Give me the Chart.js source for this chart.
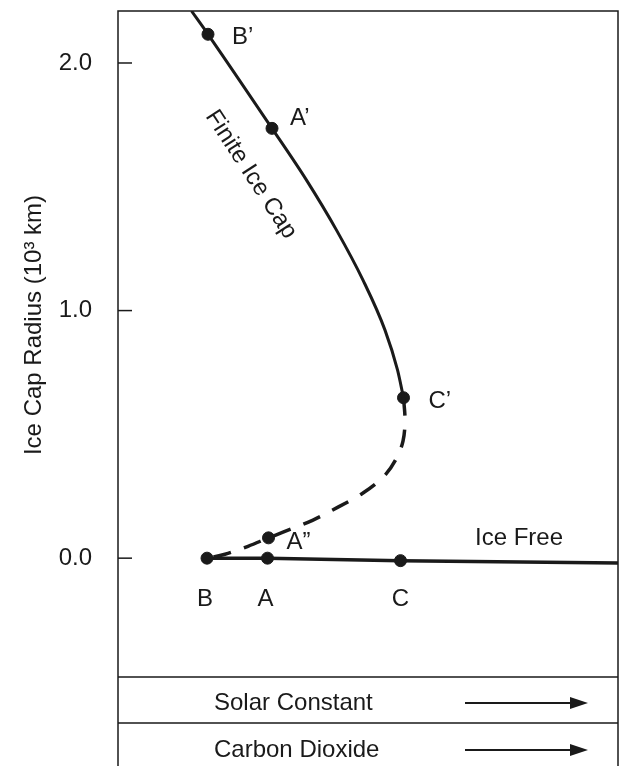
<!DOCTYPE html>
<html>
<head>
<meta charset="utf-8">
<script src="https://cdn.jsdelivr.net/npm/chart.js@4"></script>
<style>
  html, body { margin: 0; padding: 0; background: #fff; }
  #wrap { width: 629px; height: 766px; }
</style>
</head>
<body>
<div id="wrap"><canvas id="chart" width="629" height="766"></canvas></div>
<script>
// Finite ice cap branch (solid)
const finiteX = [1.47, 1.80, 3.08, 3.77, 4.37, 4.90, 5.34, 5.59, 5.71];
const finiteY = [2.21, 2.116, 1.736, 1.527, 1.325, 1.123, 0.921, 0.760, 0.648];

// unstable branch (dashed), from C' back down to B
const unstableX = [5.71, 5.74, 5.70, 5.56, 5.32, 4.90, 4.40, 3.90, 3.30, 3.01, 2.60, 2.14, 1.78];
const unstableY = [0.648, 0.558, 0.473, 0.400, 0.331, 0.263, 0.206, 0.154, 0.105, 0.082, 0.048, 0.016, 0.0];

// ice free branch
const iceFreeX = [1.78, 2.99, 5.65, 10];
const iceFreeY = [0, 0, -0.01, -0.02];

// marked states
const pointNames = ['B’', 'A’', 'C’', 'A”', 'B', 'A', 'C'];
const pointX = [1.80, 3.08, 5.71, 3.01, 1.78, 2.99, 5.65];
const pointY = [2.116, 1.736, 0.648, 0.082, 0, 0, -0.01];

const yTicks = [0, 1, 2];
const yTitle = 'Ice Cap Radius (10³ km)';
const controls = ['Solar Constant', 'Carbon Dioxide'];

const INK = '#1a1a1a';
const FONT = '"Liberation Sans", Arial, Helvetica, sans-serif';

function toXY(xs, ys) {
  return xs.map((x, i) => ({ x: x, y: ys[i] }));
}

// label offsets in px from each marked point
const labelOffsets = [
  { dx: 24, dy: 3, align: 'left' },
  { dx: 18, dy: -10, align: 'left' },
  { dx: 25, dy: 4, align: 'left' },
  { dx: 18, dy: 5, align: 'left' },
  { dx: -2, dy: 41, align: 'center' },
  { dx: -2, dy: 41, align: 'center' },
  { dx: 0, dy: 39, align: 'center' }
];

const decor = {
  id: 'decor',
  afterDraw(chart) {
    const ctx = chart.ctx;
    const a = chart.chartArea;
    const sx = chart.scales.x;
    const sy = chart.scales.y;
    const H = chart.height;
    ctx.save();
    ctx.strokeStyle = INK;
    ctx.fillStyle = INK;

    // frame, running down into the control rows
    ctx.lineWidth = 1.5;
    ctx.beginPath();
    ctx.moveTo(a.left, H);
    ctx.lineTo(a.left, a.top);
    ctx.lineTo(a.right, a.top);
    ctx.lineTo(a.right, H);
    ctx.moveTo(a.left, a.bottom);
    ctx.lineTo(a.right, a.bottom);
    ctx.moveTo(a.left, a.bottom + 46);
    ctx.lineTo(a.right, a.bottom + 46);
    ctx.stroke();

    // inward tick marks
    yTicks.forEach(v => {
      const y = sy.getPixelForValue(v);
      ctx.beginPath();
      ctx.moveTo(a.left, y);
      ctx.lineTo(a.left + 14, y);
      ctx.stroke();
    });

    // y axis title
    ctx.save();
    ctx.translate(34, 325);
    ctx.rotate(-Math.PI / 2);
    ctx.font = '24px ' + FONT;
    ctx.textAlign = 'center';
    ctx.textBaseline = 'middle';
    ctx.fillText(yTitle, 0, 0);
    ctx.restore();

    // point labels
    ctx.font = '24px ' + FONT;
    ctx.textBaseline = 'middle';
    pointNames.forEach((name, i) => {
      const o = labelOffsets[i];
      ctx.textAlign = o.align;
      ctx.fillText(name, sx.getPixelForValue(pointX[i]) + o.dx, sy.getPixelForValue(pointY[i]) + o.dy);
    });

    // branch labels
    ctx.textAlign = 'left';
    ctx.fillText('Ice Free', sx.getPixelForValue(7.14), sy.getPixelForValue(0.081));
    ctx.save();
    ctx.translate(sx.getPixelForValue(2.66), sy.getPixelForValue(1.55));
    ctx.rotate(57 * Math.PI / 180);
    ctx.textAlign = 'center';
    ctx.fillText('Finite Ice Cap', 0, 0);
    ctx.restore();

    // control rows with arrows
    controls.forEach((txt, i) => {
      const cy = a.bottom + 26 + i * 47;
      ctx.textAlign = 'left';
      ctx.fillText(txt, a.left + 96, cy);
      ctx.lineWidth = 2;
      ctx.beginPath();
      ctx.moveTo(a.left + 347, cy);
      ctx.lineTo(a.left + 456, cy);
      ctx.stroke();
      ctx.beginPath();
      ctx.moveTo(a.left + 470, cy);
      ctx.lineTo(a.left + 452, cy - 6);
      ctx.lineTo(a.left + 452, cy + 6);
      ctx.closePath();
      ctx.fill();
    });
    ctx.restore();
  }
};

new Chart(document.getElementById('chart').getContext('2d'), {
  type: 'scatter',
  data: {
    datasets: [
      {
        label: 'Finite Ice Cap',
        data: toXY(finiteX, finiteY),
        showLine: true,
        borderColor: INK,
        borderWidth: 3,
        pointRadius: 0,
        cubicInterpolationMode: 'monotone'
      },
      {
        label: 'Unstable',
        data: toXY(unstableX, unstableY),
        showLine: true,
        borderColor: INK,
        borderWidth: 3.5,
        borderDash: [18, 14],
        pointRadius: 0,
        tension: 0.35
      },
      {
        label: 'Ice Free',
        data: toXY(iceFreeX, iceFreeY),
        showLine: true,
        borderColor: INK,
        borderWidth: 3.5,
        pointRadius: 0,
        tension: 0
      },
      {
        label: 'States',
        data: toXY(pointX, pointY),
        showLine: false,
        pointRadius: 6,
        pointBackgroundColor: INK,
        pointBorderColor: INK
      }
    ]
  },
  options: {
    responsive: false,
    animation: false,
    events: [],
    layout: { padding: { top: 11, right: 11, bottom: 89, left: 0 } },
    plugins: {
      legend: { display: false },
      tooltip: { enabled: false }
    },
    scales: {
      x: { type: 'linear', min: 0, max: 10, display: false },
      y: {
        type: 'linear',
        min: -0.48,
        max: 2.21,
        afterBuildTicks: s => { s.ticks = yTicks.map(v => ({ value: v })); },
        afterFit: s => { s.width = 118; s.paddingTop = 0; s.paddingBottom = 0; },
        grid: { display: false },
        border: { display: false },
        ticks: {
          padding: 18,
          color: INK,
          font: { size: 24, family: FONT },
          callback: v => Number(v).toFixed(1)
        }
      }
    }
  },
  plugins: [decor]
});
</script>
</body>
</html>
